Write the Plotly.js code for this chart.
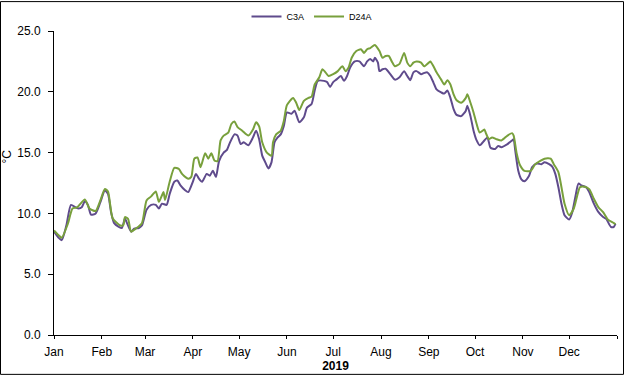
<!DOCTYPE html>
<html>
<head>
<meta charset="utf-8">
<script src="https://cdn.plot.ly/plotly-3.0.1.min.js"></script>
<style>
html,body{margin:0;padding:0;background:#fff;}
#chart{width:624px;height:375px;}
</style>
</head>
<body>
<div id="chart"></div>
<script>
const year = 2019;

// Day-of-year (0 = 1 Jan) and daily mean temperature
const c3aDays = [0,3,5,8,11,14,16,18,20,22,24,27,30,33,35,37,39,42,44,46,47,50,52,55,57,60,63,66,68,70,73,75,78,80,82,85,87,90,92,94,96,99,101,103,105,107,110,112,114,117,119,121,123,126,129,131,133,135,137,139,141,143,145,147,149,151,154,156,159,162,164,167,169,171,175,177,179,181,183,186,188,190,192,195,198,201,203,205,207,208,210,211,213,215,218,221,224,227,229,231,233,235,238,240,242,244,246,248,251,253,255,257,259,261,264,267,268,270,272,274,276,279,281,283,286,288,290,294,297,298,299,301,303,305,308,310,313,316,318,321,323,325,327,329,331,334,336,338,340,342,345,347,350,353,356,358,361,363,364];
const c3aTemps = [8.5,8.0,7.8,9.0,10.7,10.5,10.4,10.5,11.0,10.7,9.9,10.0,10.9,11.9,11.6,10.1,9.2,8.9,8.8,9.6,9.3,8.5,8.75,8.8,9.0,10.3,10.7,10.7,10.4,10.8,10.7,11.6,12.6,12.7,12.3,11.9,11.75,12.6,13.25,12.85,12.6,13.25,13.1,13.5,13.0,14.3,15.0,15.2,15.8,16.5,16.4,15.7,15.85,15.6,16.25,16.8,16.1,14.75,14.2,13.7,14.2,15.85,16.25,16.5,17.2,18.3,18.2,18.45,17.5,17.9,18.7,19.0,20.1,20.9,20.9,20.8,20.4,20.8,21.0,21.3,20.9,21.3,22.0,22.5,22.5,22.1,22.5,22.7,22.5,22.8,22.4,21.7,21.85,21.9,21.45,21.0,21.2,21.7,21.3,20.96,21.6,21.7,21.45,21.55,21.6,21.3,20.76,20.2,19.95,19.85,20.1,19.5,18.6,18.1,18.0,18.45,18.85,18.0,16.8,16.0,15.6,16.0,16.25,15.4,15.3,15.55,15.45,15.7,16.0,16.1,15.2,13.5,12.8,12.65,13.1,13.8,14.1,14.05,14.2,14.05,13.85,13.25,12.15,10.8,9.85,9.5,10.1,11.35,12.45,12.3,12.15,11.75,10.8,10.1,9.7,9.55,8.9,8.9,9.15];

const d24aDays = [0,3,5,9,12,15,20,23,27,30,33,35,38,43,45,46,48,50,53,57,60,63,66,68,71,72,75,78,81,83,87,89,91,93,95,98,100,102,104,106,108,110,113,115,117,119,122,126,129,131,133,135,138,141,142,144,147,149,151,155,157,159,162,165,167,169,172,174,176,178,181,184,187,189,191,193,196,199,201,203,205,208,211,213,215,217,219,221,224,227,229,231,233,235,238,240,243,244,246,248,251,253,255,257,259,261,264,267,268,270,272,274,276,279,280,282,284,287,290,294,297,298,300,302,305,309,312,315,318,322,324,327,329,331,334,337,339,341,344,347,350,353,356,359,363,364];
const d24aTemps = [8.6,8.2,8.0,9.15,10.4,10.5,11.15,10.4,10.2,11.05,12.0,11.8,9.6,9.0,9.05,9.7,9.55,8.5,8.75,9.2,11.07,11.4,11.8,10.95,11.75,11.1,12.6,13.75,13.65,13.25,12.85,13.0,14.5,14.6,13.8,14.95,14.5,14.95,14.35,14.3,16.0,16.4,16.65,17.35,17.55,17.1,16.8,16.4,16.9,17.5,17.15,15.85,15.0,14.75,15.85,16.5,16.8,17.6,18.9,19.5,19.1,18.5,19.25,19.5,19.6,20.6,21.2,21.85,21.6,21.3,21.45,21.7,22.1,21.7,22.0,22.8,23.35,23.5,23.2,23.5,23.6,23.85,23.35,22.8,22.95,22.95,22.5,22.1,22.3,23.2,22.4,22.1,22.4,22.5,22.4,22.1,22.4,22.5,22.1,21.6,21.0,20.6,20.95,20.6,19.8,19.3,19.1,19.5,19.8,19.1,18.3,17.35,16.65,16.9,16.6,16.1,16.25,16.1,16.0,16.4,16.6,16.4,14.9,14.0,13.5,13.5,14.05,14.3,14.5,14.5,14.05,13.4,12.15,10.8,9.85,10.4,11.35,12.15,12.2,12.0,11.2,10.5,10.1,9.5,9.2,9.1];

const seriesNames = ['C3A','D24A'];
const seriesColors = ['#5F4B8C','#78A03C'];

const monthTickDates = ['2019-01-01','2019-02-01','2019-03-01','2019-04-01','2019-05-01','2019-06-01','2019-07-01','2019-08-01','2019-09-01','2019-10-01','2019-11-01','2019-12-01','2020-01-01'];
const monthTickLabels = ['Jan','Feb','Mar','Apr','May','Jun','Jul','Aug','Sep','Oct','Nov','Dec',''];
const yTickVals = [0,5,10,15,20,25];

function dayToDate(d){
  const t = new Date(Date.UTC(year,0,1+d));
  return t.toISOString().slice(0,10);
}

const font = 'Liberation Sans, Arial, sans-serif';

const traces = [
  {x: c3aDays.map(dayToDate), y: c3aTemps, name: seriesNames[0], type:'scatter', mode:'lines',
   line:{color:seriesColors[0], width:2, shape:'spline', smoothing:0.6}},
  {x: d24aDays.map(dayToDate), y: d24aTemps, name: seriesNames[1], type:'scatter', mode:'lines',
   line:{color:seriesColors[1], width:2, shape:'spline', smoothing:0.6}}
];

const L = 54, R = 7, T = 30, B = 40, W = 624, H = 375;
const pw = W - L - R, ph = H - T - B;

const layout = {
  width: W, height: H,
  margin: {l:L, r:R, t:T, b:B, pad:0},
  paper_bgcolor:'#fff', plot_bgcolor:'#fff',
  font:{family:font, size:12, color:'#000'},
  showlegend:true,
  legend:{orientation:'h', x:(312-L)/pw, xanchor:'center', yref:'container', y:1-2/H, yanchor:'top',
          font:{family:font, size:9, color:'#000'}, bgcolor:'rgba(0,0,0,0)', itemwidth:30, tracegroupgap:0},
  xaxis:{type:'date', range:['2019-01-01','2020-01-01'], tickmode:'array', tickvals:monthTickDates, ticktext:monthTickLabels,
         ticks:'outside', ticklen:3, tickcolor:'#000', tickwidth:1, showline:true, linecolor:'#000', linewidth:1,
         showgrid:false, zeroline:false, ticklabelstandoff:3,
         tickfont:{family:font, size:12, color:'#000'},
         title:{text:'<b>2019</b>', font:{family:font, size:12, color:'#000'}, standoff:0}},
  yaxis:{range:[0,25], tickmode:'array', tickvals:yTickVals, tickformat:'.1f',
         ticks:'outside', ticklen:5, tickcolor:'#000', tickwidth:1, showline:true, linecolor:'#000', linewidth:1,
         showgrid:false, zeroline:false, ticklabelstandoff:5,
         tickfont:{family:font, size:12, color:'#000'}},
  xaxis2:{type:'date', overlaying:'x', anchor:'y', side:'bottom', range:['2019-01-01','2020-01-01'], tickmode:'array',
          tickvals:monthTickDates, ticks:'inside', ticklen:3, tickcolor:'#000', showticklabels:false,
          showline:false, showgrid:false, zeroline:false},
  yaxis2:{overlaying:'y', anchor:'x', side:'left', range:[0,25], tickmode:'array', tickvals:yTickVals,
          ticks:'inside', ticklen:2, tickcolor:'#000', showticklabels:false, showline:false, showgrid:false, zeroline:false},
  annotations:[{text:'°C', xref:'paper', yref:'paper', x:(7-L)/pw, y:(335-156)/ph, textangle:-90, showarrow:false,
                font:{family:font, size:12, color:'#000'}, xanchor:'center', yanchor:'middle'}],
  shapes:[{type:'rect', xref:'paper', yref:'paper',
           x0:(0.5-L)/pw, x1:(W-0.5-L)/pw,
           y0:-(H-0.5-T-ph)/ph, y1:(ph+T-0.5)/ph,
           line:{color:'#000', width:1}, fillcolor:'rgba(0,0,0,0)', layer:'above'}]
};

Plotly.newPlot('chart', traces, layout, {displayModeBar:false, staticPlot:true});
</script>
</body>
</html>
